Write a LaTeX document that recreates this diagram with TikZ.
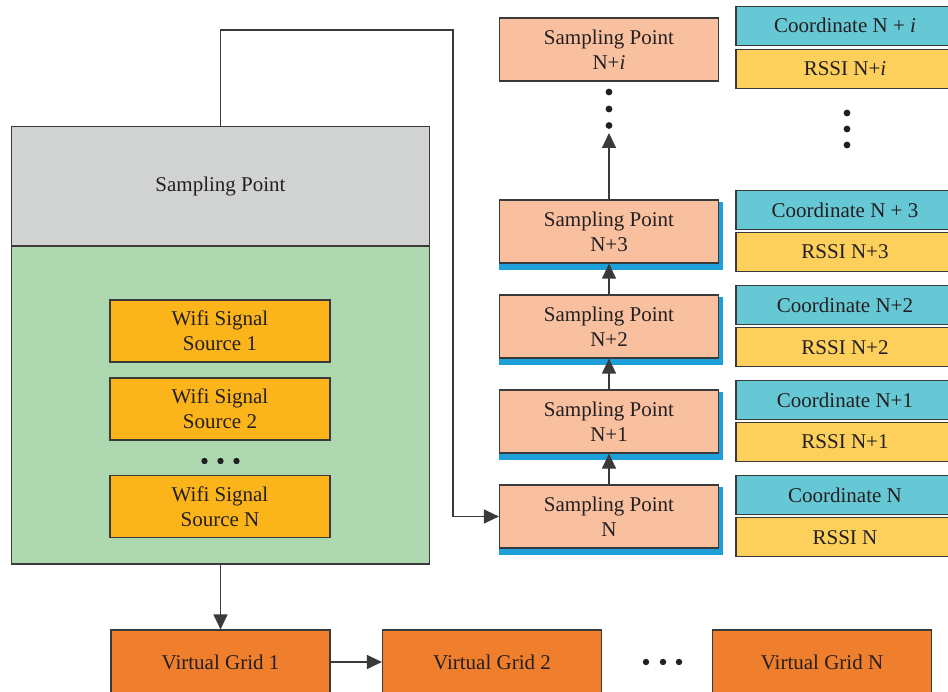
\documentclass[tikz,border=0pt]{standalone}
\usepackage{fontspec}
\setmainfont{Liberation Serif}
\usetikzlibrary{arrows.meta,backgrounds}
\definecolor{cgray}{HTML}{D1D3D2}
\definecolor{cgreen}{HTML}{ADD8B0}
\definecolor{cwifi}{HTML}{FBB41A}
\definecolor{csp}{HTML}{F9C0A0}
\definecolor{cshadow}{HTML}{1F9FD9}
\definecolor{ccoord}{HTML}{67C8D5}
\definecolor{crssi}{HTML}{FDD05B}
\definecolor{cvg}{HTML}{F07F2D}
\definecolor{cedge}{HTML}{3A3A3A}
\definecolor{ctext}{HTML}{231F20}
\begin{document}
\begin{tikzpicture}[x=1pt,y=-1pt,
  base/.style={draw=cedge, line width=1.2pt, inner sep=0pt, align=center, text=ctext,
               font=\fontsize{21}{25}\selectfont},
  graybox/.style={base, fill=cgray, minimum width=418pt, minimum height=119.3pt},
  greenbox/.style={base, fill=cgreen, minimum width=418pt, minimum height=318pt},
  wifibox/.style={base, fill=cwifi, minimum width=220pt, minimum height=62pt},
  spbox/.style={base, fill=csp, minimum width=219pt, minimum height=63pt},
  coordbox/.style={base, fill=ccoord, minimum width=218pt, minimum height=39pt},
  rssibox/.style={base, fill=crssi, minimum width=218pt, minimum height=39pt},
  vgbox/.style={base, fill=cvg, minimum width=219pt, minimum height=64pt},
  arr/.style={draw=cedge, line width=1.2pt, -{Triangle[length=15pt,width=14pt]}},
  dotc/.style={fill=ctext}]
\useasboundingbox (0,0) rectangle (948,692);

% left big box
\node[graybox] (gray) at (220.5,186.3) {Sampling Point};
\node[greenbox] (grn) at (220.5,405) {};
\node[wifibox] (w1) at (220,331) {Wifi Signal\\Source 1};
\node[wifibox] (w2) at (220,409) {Wifi Signal\\Source 2};
\node[wifibox] (wn) at (220,506.5) {Wifi Signal\\Source N};
\fill[dotc] (204.5,461) circle (3.2pt) (220.5,461) circle (3.2pt) (236.5,461) circle (3.2pt);

% sampling points column
\node[spbox] (spN) at (609,516.5) {Sampling Point\\N};
\node[spbox] (sp1) at (609,421.5) {Sampling Point\\N+1};
\node[spbox] (sp2) at (609,326.5) {Sampling Point\\N+2};
\node[spbox] (sp3) at (609,231.5) {Sampling Point\\N+3};
\node[spbox] (spi) at (609,49.5) {Sampling Point\\N+\textit{i}};
\begin{scope}[on background layer]
\foreach \n in {spN,sp1,sp2,sp3}
  \fill[cshadow] ([yshift=-3pt]\n.north west) rectangle ([xshift=3.5pt,yshift=-6.5pt]\n.south east);
\end{scope}
\draw[arr] (spN.north) -- (sp1.south);
\draw[arr] (sp1.north) -- (sp2.south);
\draw[arr] (sp2.north) -- (sp3.south);
\coordinate (sptop) at (609,133);
\draw[arr] (sp3.north) -- (sptop);
\fill[dotc] (609,92) circle (3.4pt) (609,109) circle (3.4pt) (609,125.5) circle (3.4pt);

% coordinate / RSSI column
\node[coordbox] (ci) at (845,25.7) {Coordinate N + \textit{i}};
\node[rssibox] (ri) at (845,68.8) {RSSI N+\textit{i}};
\node[coordbox] (c3) at (845,210) {Coordinate N + 3};
\node[rssibox] (r3) at (845,252) {RSSI N+3};
\node[coordbox] (c2) at (845,305) {Coordinate N+2};
\node[rssibox] (r2) at (845,347.2) {RSSI N+2};
\node[coordbox] (c1) at (845,400) {Coordinate N+1};
\node[rssibox] (r1) at (845,442) {RSSI N+1};
\node[coordbox] (cN) at (845,495) {Coordinate N};
\node[rssibox] (rN) at (845,537.2) {RSSI N};
\fill[dotc] (847,113) circle (3.4pt) (847,129) circle (3.4pt) (847,145) circle (3.4pt);

% feedback connector
\coordinate (bendR) at (453,30);
\draw[arr] (gray.north) |- (bendR) |- (spN.west);

% virtual grids
\node[vgbox] (vg1) at (220.5,662) {Virtual Grid 1};
\node[vgbox] (vg2) at (492,662) {Virtual Grid 2};
\node[vgbox] (vgn) at (822,662) {Virtual Grid N};
\fill[dotc] (646,662) circle (3.2pt) (663,662) circle (3.2pt) (679,662) circle (3.2pt);
\draw[arr] (grn.south) -- (vg1.north);
\draw[arr] (vg1.east) -- (vg2.west);
\end{tikzpicture}
\end{document}
